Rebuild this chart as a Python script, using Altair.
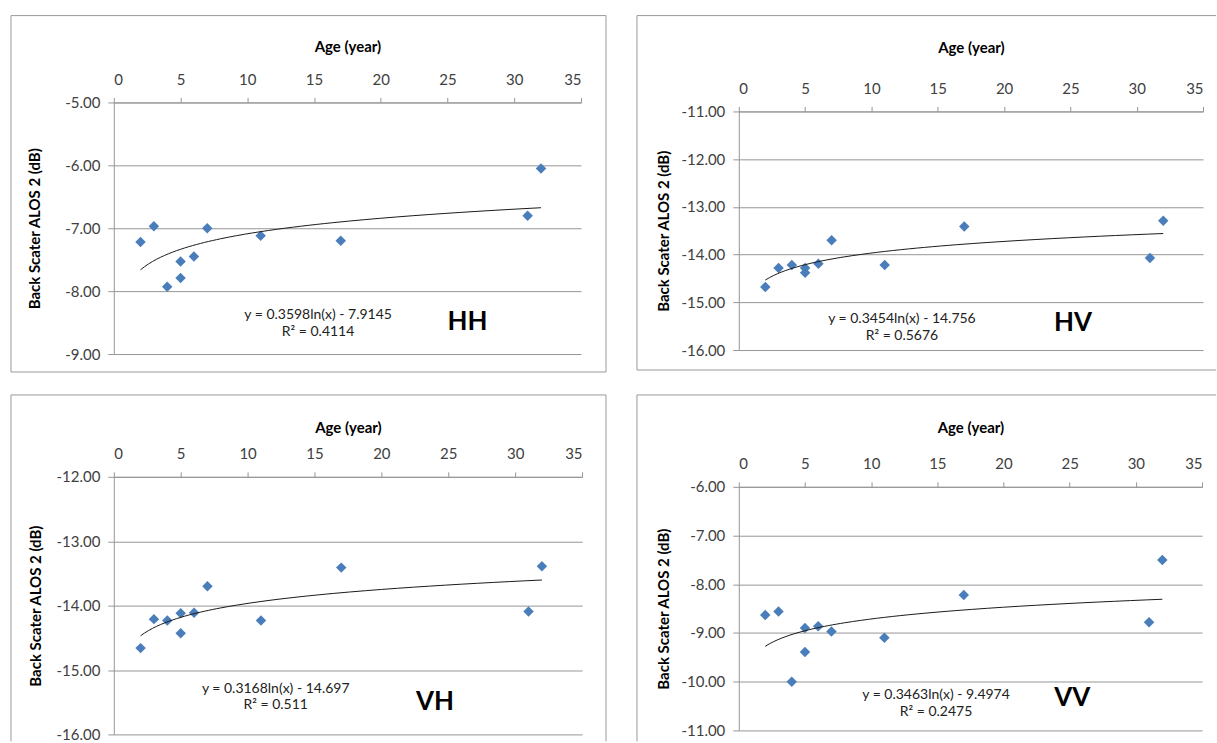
import altair as alt
import pandas as pd

# ---------------- data ----------------
AGE = [2, 3, 4, 5, 5, 6, 7, 11, 17, 31, 32]
HH = [-7.22, -6.97, -7.93, -7.53, -7.79, -7.45, -7.00, -7.12, -7.20, -6.80, -6.05]
HV = [-14.68, -14.28, -14.22, -14.28, -14.38, -14.19, -13.70, -14.22, -13.41, -14.07, -13.29]
VH = [-14.66, -14.21, -14.23, -14.12, -14.43, -14.11, -13.70, -14.23, -13.41, -14.09, -13.39]
VV = [-8.63, -8.56, -10.00, -8.90, -9.39, -8.86, -8.97, -9.10, -8.22, -8.78, -7.50]

X_TICKS = [0, 5, 10, 15, 20, 25, 30, 35]
HH_TICKS = [-9, -8, -7, -6, -5]
HV_TICKS = [-16, -15, -14, -13, -12, -11]
VH_TICKS = [-16, -15, -14, -13, -12]
VV_TICKS = [-11, -10, -9, -8, -7, -6]

X_TITLE = "Age (year)"
Y_TITLE = "Back Scater ALOS 2 (dB)"

EQ_HH = ["y = 0.3598ln(x) - 7.9145", "R² = 0.4114"]
EQ_HV = ["y = 0.3454ln(x) - 14.756", "R² = 0.5676"]
EQ_VH = ["y = 0.3168ln(x) - 14.697", "R² = 0.511"]
EQ_VV = ["y = 0.3463ln(x) - 9.4974", "R² = 0.2475"]

FONT = "Lato"
GRID = "#969696"
FRAME = "#9a9a9a"
BLUE = "#4A7EBB"
ONE = pd.DataFrame({"k": [0]})

Y_LABEL = "(datum.value < 0 ? '-' : '') + format(abs(datum.value), '.2f')"


def frame(sides):
    return [
        alt.Chart(ONE).mark_rule(color=FRAME, strokeWidth=1).encode(
            x=alt.value(x1), x2=alt.value(x2), y=alt.value(y1), y2=alt.value(y2)
        )
        for (x1, y1, x2, y2) in sides
    ]


def spacer():
    # tiny invisible cell so that the two columns are aligned on their frames
    return alt.Chart(ONE).mark_rule(strokeOpacity=0, strokeWidth=1).encode(
        x=alt.value(0.5), y=alt.value(0), y2=alt.value(1)
    ).properties(width=1, height=1)


def panel(values, ydom, yticks, w, h, xtitle_y, ytitle_x, eq, eq_pos, tag, tag_pos, sides):
    df = pd.DataFrame({"age": AGE, "bs": values})
    xenc = alt.X(
        "age:Q",
        title=X_TITLE,
        scale=alt.Scale(domain=[0, 35], nice=False, zero=False),
        axis=alt.Axis(
            orient="top", values=X_TICKS, format="d", grid=False, tickSize=5,
            labelPadding=10, titleY=xtitle_y, titleBaseline="middle",
        ),
    )
    yenc = alt.Y(
        "bs:Q",
        title=Y_TITLE,
        scale=alt.Scale(domain=ydom, nice=False, zero=False),
        axis=alt.Axis(
            values=yticks, labelExpr=Y_LABEL, grid=True, tickSize=6, labelPadding=8,
            titleX=ytitle_x, titleBaseline="middle",
        ),
    )
    pts = alt.Chart(df).mark_point(
        shape="diamond", filled=True, size=110, color=BLUE, opacity=1
    ).encode(x=xenc, y=yenc)
    reg = alt.Chart(df).transform_regression(
        "age", "bs", method="log", extent=[2, 32]
    ).mark_line(color="#1a1a1a", strokeWidth=1).encode(x=xenc, y=yenc)
    ann_df = pd.DataFrame({
        "age": [eq_pos[0], eq_pos[0]],
        "bs": [eq_pos[1], eq_pos[2]],
        "t": eq,
    })
    ann = alt.Chart(ann_df).mark_text(
        font=FONT, fontSize=14, color="#222222", align="center", baseline="middle"
    ).encode(x=xenc, y=yenc, text="t:N")
    tag_df = pd.DataFrame({"age": [tag_pos[0]], "bs": [tag_pos[1]], "t": [tag]})
    tg = alt.Chart(tag_df).mark_text(
        font=FONT, fontSize=26, fontWeight="bold", color="#000000",
        align="center", baseline="middle"
    ).encode(x=xenc, y=yenc, text="t:N")
    return alt.layer(*frame(sides), pts, reg, ann, tg).properties(width=w, height=h)


p_hh = panel(HH, [-9, -5], HH_TICKS, 468, 252, -56, -79, EQ_HH, (15.3, -8.38, -8.65),
             "HH", (26.5, -8.49),
             [(-103, -87, 493, -87), (-103, 270, 493, 270), (-103, -87, -103, 270), (493, -87, 493, 270)])
p_hv = panel(HV, [-16, -11], HV_TICKS, 465, 239, -64, -75, EQ_HV, (12.3, -15.35, -15.71),
             "HV", (25.2, -15.43),
             [(-102, -96, 478, -96), (-102, 259, 478, 259), (-102, -96, -102, 259)])
p_vh = panel(VH, [-16, -12], VH_TICKS, 469, 258, -49, -78, EQ_VH, (12.1, -15.29, -15.55),
             "VH", (24.0, -15.49),
             [(-103, -82, 493, -82), (-103, -82, -103, 265), (493, -82, 493, 265)])
p_vv = panel(VV, [-11, -6], VV_TICKS, 464, 244, -59, -75, EQ_VV, (14.9, -10.28, -10.63),
             "VV", (25.2, -10.34),
             [(-102, -92, 478, -92), (-102, -92, -102, 255)])

col1 = alt.vconcat(spacer(), alt.vconcat(p_hh, p_vh, spacing=21), spacing=0)
col2 = alt.vconcat(spacer(), alt.vconcat(p_hv, p_vv, spacing=23), spacing=0)

chart = alt.hconcat(col1, col2, spacing=29).properties(
    padding={"left": 10, "top": 13, "right": 0, "bottom": 0},
    background="white",
).configure_view(stroke=None).configure_axis(
    labelFont=FONT, labelFontSize=15, labelColor="#404040",
    titleFont=FONT, titleFontSize=15, titleFontWeight="bold", titleColor="#000000",
    domainColor=GRID, tickColor=GRID, gridColor=GRID, domainWidth=1, gridWidth=1,
)

chart.save("out.html", embed_options={"renderer": "svg", "actions": False})
